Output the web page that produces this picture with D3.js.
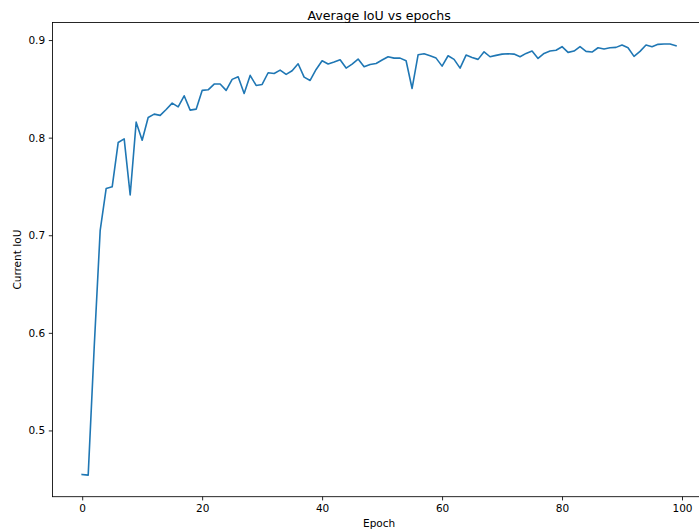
<!DOCTYPE html>
<html>
<head>
<meta charset="utf-8">
<script src="https://cdn.jsdelivr.net/npm/d3@7"></script>
<style>
  html, body { margin: 0; padding: 0; background: #fff; }
  svg { display: block; }
  text { font-family: "DejaVu Sans", sans-serif; fill: #000; }
</style>
</head>
<body>
<svg id="chart" width="699" height="531"></svg>
<script>
// Average IoU per training epoch
const epochs = d3.range(0, 100);
const iou = [
  0.4549, 0.4542, 0.585, 0.705, 0.748, 0.7496, 0.795, 0.7988, 0.7413, 0.8159,
  0.7974, 0.8207, 0.8241, 0.8228, 0.8289, 0.8354, 0.8316, 0.8429, 0.8282, 0.8292,
  0.8484, 0.849, 0.8549, 0.8549, 0.8484, 0.8597, 0.8624, 0.8453, 0.8638, 0.8535,
  0.8545, 0.8665, 0.8658, 0.8692, 0.8648, 0.8685, 0.8757, 0.862, 0.8586, 0.8699,
  0.8788, 0.8754, 0.8774, 0.8798, 0.8713, 0.8754, 0.8805, 0.8726, 0.875, 0.876,
  0.8795, 0.8829, 0.8815, 0.8815, 0.8788, 0.8504, 0.8849, 0.886, 0.8839, 0.8815,
  0.8733, 0.8839, 0.8802, 0.8712, 0.8846, 0.8822, 0.8802, 0.888, 0.8829, 0.8843,
  0.8856, 0.886, 0.8856, 0.8829, 0.8863, 0.8887, 0.8812, 0.8863, 0.8887, 0.8896,
  0.8932, 0.8874, 0.8887, 0.8932, 0.8884, 0.8877, 0.8921, 0.8908, 0.8921, 0.8925,
  0.8949, 0.8921, 0.8833, 0.8884, 0.8949, 0.8932, 0.8956, 0.8959, 0.8959, 0.8941
];
const xTicks = [0, 20, 40, 60, 80, 100];
const yTicks = [0.5, 0.6, 0.7, 0.8, 0.9];

const titleText = "Average IoU vs epochs";
const xLabel = "Epoch";
const yLabel = "Current IoU";

const svg = d3.select("#chart");
const plot = { left: 52.5, top: 22.5, right: 705.7, bottom: 496.7 };

// 5% padding around the data on both axes
const padX = (d3.max(epochs) - d3.min(epochs)) * 0.05;
const [yMin, yMax] = d3.extent(iou);
const padY = (yMax - yMin) * 0.05;

const x = d3.scaleLinear()
  .domain([d3.min(epochs) - padX, d3.max(epochs) + padX])
  .range([plot.left, plot.right]);
const y = d3.scaleLinear()
  .domain([yMin - padY, yMax + padY])
  .range([plot.bottom, plot.top]);

const tickLen = 3.7, tickPad = 3.7, fontSize = 10.5;

// x axis
const gx = svg.append("g")
  .attr("transform", `translate(0,${plot.bottom})`)
  .call(d3.axisBottom(x).tickValues(xTicks).tickFormat(d3.format("d"))
    .tickSize(tickLen).tickPadding(tickPad).tickSizeOuter(0));
gx.select(".domain").remove();

// y axis
const gy = svg.append("g")
  .attr("transform", `translate(${plot.left},0)`)
  .call(d3.axisLeft(y).tickValues(yTicks).tickFormat(d3.format(".1f"))
    .tickSize(tickLen).tickPadding(tickPad).tickSizeOuter(0));
gy.select(".domain").remove();

svg.selectAll(".tick line").attr("stroke", "#000").attr("stroke-width", 0.85);
svg.selectAll(".tick text")
  .attr("font-family", "DejaVu Sans, sans-serif")
  .attr("font-size", fontSize)
  .attr("fill", "#000");

// the line
const line = d3.line()
  .x((d, i) => x(epochs[i]))
  .y(d => y(d));

svg.append("path")
  .datum(iou)
  .attr("fill", "none")
  .attr("stroke", "#1f77b4")
  .attr("stroke-width", 1.6)
  .attr("stroke-linejoin", "round")
  .attr("stroke-linecap", "square")
  .attr("d", line);

// frame
svg.append("rect")
  .attr("x", plot.left)
  .attr("y", plot.top)
  .attr("width", plot.right - plot.left)
  .attr("height", plot.bottom - plot.top)
  .attr("fill", "none")
  .attr("stroke", "#000")
  .attr("stroke-width", 0.85);

// labels
svg.append("text")
  .attr("x", (plot.left + plot.right) / 2)
  .attr("y", 19.5)
  .attr("text-anchor", "middle")
  .attr("font-size", 12.6)
  .text(titleText);

svg.append("text")
  .attr("x", (plot.left + plot.right) / 2)
  .attr("y", 527)
  .attr("text-anchor", "middle")
  .attr("font-size", fontSize)
  .text(xLabel);

svg.append("text")
  .attr("transform", `translate(21,${(plot.top + plot.bottom) / 2}) rotate(-90)`)
  .attr("text-anchor", "middle")
  .attr("font-size", fontSize)
  .text(yLabel);
</script>
</body>
</html>
